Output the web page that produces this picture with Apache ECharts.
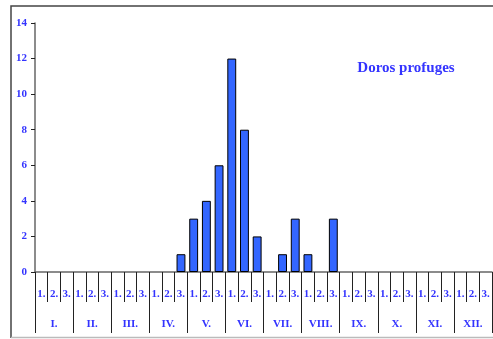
<!DOCTYPE html>
<html>
<head>
<meta charset="utf-8">
<script src="https://cdn.jsdelivr.net/npm/echarts@6/dist/echarts.min.js"></script>
<style>
  html, body { margin: 0; padding: 0; background: #fff; }
</style>
</head>
<body>
<div id="chart" style="width: 493px;height:339px;"></div>
<script>
// 10-day periods (decades) of each month
var decades = []
var months = ['I.', 'II.', 'III.', 'IV.', 'V.', 'VI.', 'VII.', 'VIII.', 'IX.', 'X.', 'XI.', 'XII.']
months.forEach(function (m) {
  decades.push(m + '1.', m + '2.', m + '3.')
})
var decadeLabels = ['1.', '2.', '3.']
// counts per decade, I.1 .. XII.3
var counts = [
  0, 0, 0,   // I
  0, 0, 0,   // II
  0, 0, 0,   // III
  0, 0, 1,   // IV
  3, 4, 6,   // V
  12, 8, 2,  // VI
  0, 1, 3,   // VII
  1, 0, 3,   // VIII
  0, 0, 0,   // IX
  0, 0, 0,   // X
  0, 0, 0,   // XI
  0, 0, 0    // XII
]
var seriesName = 'Doros profuges'

var blue = '#3333ff'
var labelFont = 'Liberation Serif'

var chart = echarts.init(document.getElementById('chart'))
var option = {
  animation: false,
  title: {
    text: seriesName,
    left: 401,
    top: 56,
    textAlign: 'center',
    textStyle: {
      color: blue,
      fontFamily: labelFont,
      fontWeight: 'bold',
      fontSize: 15
    }
  },
  // frame around the chart (right side is cut off in the original)
  graphic: [
    {
      type: 'polyline',
      shape: { points: [[11, 338], [11, 6], [493, 6]] },
      style: { fill: 'none', stroke: '#444', lineWidth: 1.5 },
      silent: true
    },
    {
      type: 'line',
      shape: { x1: 11, y1: 337.5, x2: 493, y2: 337.5 },
      style: { stroke: '#bbb', lineWidth: 1.5 },
      silent: true
    }
  ],
  grid: {
    left: 35,
    top: 23,
    right: 1,
    bottom: 67
  },
  xAxis: [
    {
      type: 'category',
      position: 'bottom',
      data: decades,
      axisLine: { show: true, lineStyle: { color: '#666', width: 1.5 } },
      axisTick: { show: true, length: 30, lineStyle: { color: '#222' } },
      axisLabel: {
        interval: 0,
        margin: 17,
        color: blue,
        fontFamily: labelFont,
        fontWeight: 'bold',
        fontSize: 11,
        formatter: function (v, i) {
          return decadeLabels[i % 3]
        }
      }
    },
    {
      type: 'category',
      position: 'bottom',
      data: months,
      axisLine: { show: false },
      axisTick: { show: true, length: 61, lineStyle: { color: '#222' } },
      axisLabel: {
        interval: 0,
        margin: 47,
        color: blue,
        fontFamily: labelFont,
        fontWeight: 'bold',
        fontSize: 11
      }
    }
  ],
  yAxis: {
    type: 'value',
    min: 0,
    max: 14,
    interval: 2,
    splitLine: { show: false },
    axisLine: { show: true, lineStyle: { color: '#666', width: 1.5 } },
    axisTick: { show: true, length: 4, lineStyle: { color: '#222' } },
    axisLabel: {
      margin: 8,
      color: blue,
      fontFamily: labelFont,
      fontWeight: 'bold',
      fontSize: 11
    }
  },
  series: [
    {
      name: seriesName,
      type: 'bar',
      xAxisIndex: 0,
      // empty decades get no bar at all
      data: counts.map(function (v) { return v === 0 ? '-' : v }),
      barCategoryGap: '30%',
      itemStyle: {
        color: '#3366ff',
        borderColor: '#000',
        borderWidth: 1
      }
    }
  ]
}
chart.setOption(option)
</script>
</body>
</html>
